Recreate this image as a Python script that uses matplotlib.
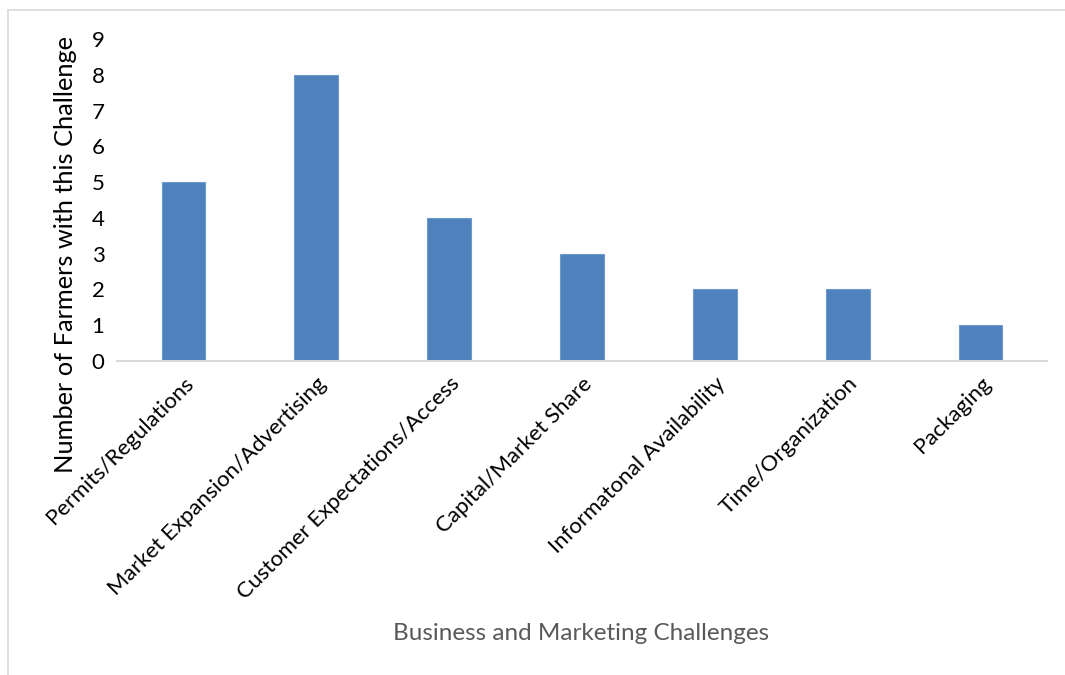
import matplotlib.pyplot as plt
from matplotlib.lines import Line2D

plt.rcParams['font.family'] = ['Lato', 'DejaVu Sans']

categories = ['Permits/Regulations', 'Market Expansion/Advertising',
              'Customer Expectations/Access', 'Capital/Market Share',
              'Informatonal Availability', 'Time/Organization', 'Packaging']
counts = [5, 8, 4, 3, 2, 2, 1]
y_ticks = list(range(0, 10))

fig = plt.figure(figsize=(10.65, 6.75), dpi=100)
ax = fig.add_axes([0.1099, 0.4652, 0.8732, 0.477])

x = range(len(categories))
ax.bar(x, counts, width=0.33, color='#4F81BD', edgecolor='#6F98CB', linewidth=0.8)

ax.set_xlim(-0.5, len(categories) - 0.5)
ax.set_ylim(0, 9)
ax.set_yticks(y_ticks)
ax.set_xticks(list(x))
ax.set_xticklabels(categories, rotation=45, ha='right', rotation_mode='anchor',
                   fontsize=16)
ax.tick_params(axis='y', labelsize=16, length=0, pad=9)
ax.tick_params(axis='x', length=0, pad=9)

for side in ['top', 'right', 'left']:
    ax.spines[side].set_visible(False)
ax.spines['bottom'].set_color('#D9D9D9')
ax.spines['bottom'].set_linewidth(1.5)

ax.set_ylabel('Number of Farmers with this Challenge', fontsize=18.3)
ax.yaxis.set_label_coords(-0.043, 0.33)
fig.text(0.5455, 0.061, 'Business and Marketing Challenges', ha='center',
         va='center', fontsize=17.5, color='#595959')

# chart area border (left and top edges)
fig.add_artist(Line2D([8 / 1065, 8 / 1065], [0, 1 - 10 / 675],
                      transform=fig.transFigure, color='#D9D9D9', linewidth=1.2))
fig.add_artist(Line2D([8 / 1065, 1], [1 - 10 / 675, 1 - 10 / 675],
                      transform=fig.transFigure, color='#D9D9D9', linewidth=1.2))

plt.savefig('out.png', dpi=100)
plt.close()
